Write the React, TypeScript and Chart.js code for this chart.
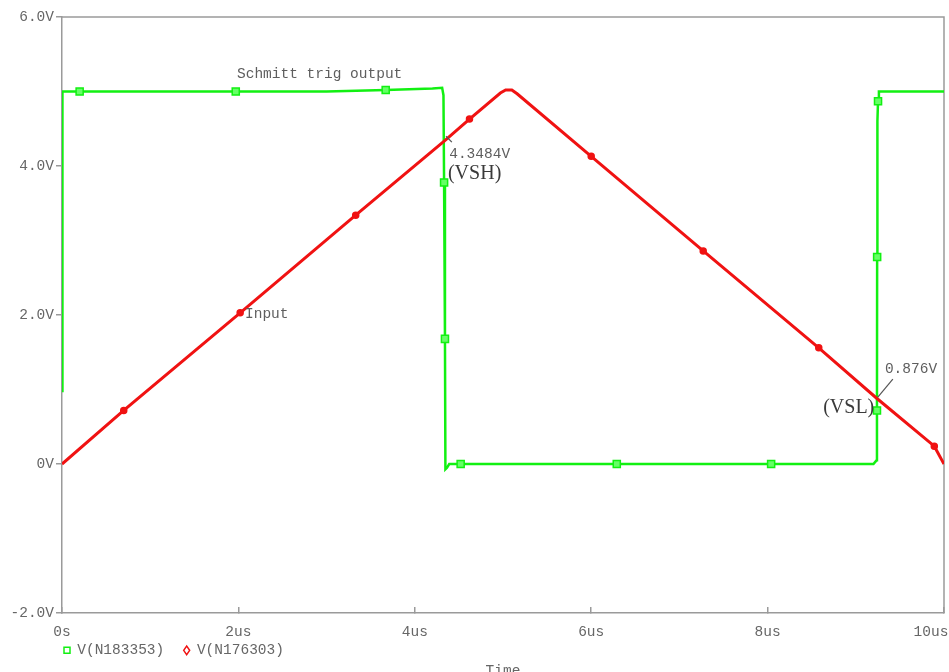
import React, { useEffect, useRef } from "react";
import { Chart, registerables } from "chart.js";

Chart.register(...registerables);

// ---- data (time in microseconds, voltage in volts) ----
const outputLabel = "V(N183353)";
const outputTimes = [0, 0.005, 0.2, 1.97, 3.0, 3.67, 4.2, 4.31, 4.325, 4.332, 4.342, 4.347, 4.365, 4.39, 4.52, 6.29, 8.04, 9.2, 9.235, 9.24, 9.242, 9.245, 9.252, 9.262, 10];
const outputVolts = [0.98, 5.0, 5.0, 5.0, 5.0, 5.02, 5.04, 5.05, 4.95, 3.78, 1.68, -0.07, -0.05, 0.0, 0.0, 0.0, 0.0, 0.0, 0.05, 0.72, 2.78, 4.6, 4.87, 5.0, 5.0];
const outputMarkers = [0, 0, 1, 1, 0, 1, 0, 0, 0, 1, 1, 0, 0, 0, 1, 1, 1, 0, 0, 1, 1, 0, 1, 0, 0];

const inputLabel = "V(N176303)";
const inputTimes = [0, 0.7, 2.02, 3.33, 4.35, 4.62, 4.97, 5.03, 5.1, 5.16, 6.0, 7.27, 8.58, 9.24, 9.89, 10];
const inputVolts = [0, 0.72, 2.03, 3.34, 4.35, 4.63, 4.98, 5.02, 5.02, 4.97, 4.13, 2.86, 1.56, 0.88, 0.24, 0];
const inputMarkers = [0, 1, 1, 1, 0, 1, 0, 0, 0, 0, 1, 1, 1, 0, 1, 0];

const xTickLabels = ["0s", "2us", "4us", "6us", "8us", "10us   "];
const yTickLabels = ["-2.0V", "0V", "2.0V", "4.0V", "6.0V"];
const xAxisTitle = "Time";

// annotations: text, anchor time (us), anchor volts
const noteTexts = ["Schmitt trig output", "Input", "4.3484V", "(VSH)", "0.876V", "(VSL)"];
const noteTimes = [1.984, 2.075, 4.39, 4.376, 9.33, 8.63];
const noteVolts = [5.23, 2.01, 4.16, 3.9, 1.275, 0.75];
const noteSerif = [false, false, false, true, false, true];
// leader lines: [t1, v1, t2, v2]
const leaderLines = [
  [4.354, 4.4, 4.42, 4.32],
  [9.25, 0.9, 9.42, 1.14],
];

const MONO = "'Liberation Mono', 'DejaVu Sans Mono', monospace";
const SERIF = "'Liberation Serif', 'DejaVu Serif', serif";
const AXIS = "#9a9a9a";
const TEXT = "#666666";
const GREEN = "#12f012";
const RED = "#f01212";

const framePlugin = {
  id: "frame",
  beforeDatasetsDraw(chart: any) {
    const { ctx, chartArea } = chart;
    ctx.save();
    ctx.strokeStyle = AXIS;
    ctx.lineWidth = 1.5;
    ctx.beginPath();
    ctx.moveTo(chartArea.left, chartArea.top);
    ctx.lineTo(chartArea.right, chartArea.top);
    ctx.lineTo(chartArea.right, chartArea.bottom);
    ctx.stroke();
    ctx.restore();
  },
};

const notesPlugin = {
  id: "notes",
  afterDatasetsDraw(chart: any) {
    const { ctx } = chart;
    const xs = chart.scales.x;
    const ys = chart.scales.y;
    ctx.save();
    ctx.textBaseline = "middle";
    noteTexts.forEach((txt, i) => {
      const px = xs.getPixelForValue(noteTimes[i]);
      const py = ys.getPixelForValue(noteVolts[i]);
      if (noteSerif[i]) {
        ctx.font = `20px ${SERIF}`;
        ctx.fillStyle = "#3a3a3a";
      } else {
        ctx.font = `14.5px ${MONO}`;
        ctx.fillStyle = "#5e5e5e";
      }
      ctx.textAlign = "left";
      ctx.fillText(txt, px, py);
    });
    ctx.strokeStyle = "#555555";
    ctx.lineWidth = 1.2;
    leaderLines.forEach(([t1, v1, t2, v2]) => {
      ctx.beginPath();
      ctx.moveTo(xs.getPixelForValue(t1), ys.getPixelForValue(v1));
      ctx.lineTo(xs.getPixelForValue(t2), ys.getPixelForValue(v2));
      ctx.stroke();
    });
    ctx.restore();
  },
};

export default function App() {
  const ref = useRef<HTMLCanvasElement>(null);

  useEffect(() => {
    if (!ref.current) return;
    const outputData = outputTimes.map((t, i) => ({ x: t, y: outputVolts[i] }));
    const inputData = inputTimes.map((t, i) => ({ x: t, y: inputVolts[i] }));

    const chart = new Chart(ref.current, {
      type: "line",
      data: {
        datasets: [
          {
            label: outputLabel,
            data: outputData,
            borderColor: GREEN,
            backgroundColor: "#ffffff",
            borderWidth: 2.5,
            tension: 0,
            fill: false,
            order: 1,
            pointStyle: "rect",
            pointRadius: (c: any) => (outputMarkers[c.dataIndex] ? 5 : 0),
            pointBackgroundColor: (c: any) => (c.dataIndex === 0 ? "#ffffff" : "#66ff66"),
            pointBorderColor: GREEN,
            pointBorderWidth: 1.5,
          },
          {
            label: inputLabel,
            data: inputData,
            borderColor: RED,
            backgroundColor: "#ffffff",
            borderWidth: 3,
            tension: 0,
            fill: false,
            order: 0,
            pointStyle: (c: any) => (c.dataIndex === 0 ? "rectRot" : "circle"),
            pointRadius: (c: any) => (inputMarkers[c.dataIndex] ? 3 : 0),
            pointBackgroundColor: (c: any) => (c.dataIndex === 0 ? "#ffffff" : RED),
            pointBorderColor: RED,
            pointBorderWidth: 1.5,
          },
        ],
      } as any,
      options: {
        animation: false,
        responsive: false,
        maintainAspectRatio: false,
        devicePixelRatio: 1,
        layout: { padding: { top: 17, right: 5, left: 0, bottom: 0 } },
        scales: {
          x: {
            type: "linear",
            min: 0,
            max: 10,
            ticks: {
              stepSize: 2,
              autoSkip: false,
              maxRotation: 0,
              padding: 16,
              color: TEXT,
              font: { family: MONO, size: 14.5 },
              callback: (_v: any, i: number) => xTickLabels[i],
            },
            grid: { drawOnChartArea: false, drawTicks: true, tickLength: -6, color: AXIS, lineWidth: 1.5 },
            border: { display: true, color: AXIS, width: 1.5 },
            afterFit: (s: any) => {
              s.height = 28;
              s.paddingLeft = 0;
              s.paddingRight = 0;
            },
          },
          y: {
            type: "linear",
            min: -2,
            max: 6,
            ticks: {
              stepSize: 2,
              padding: 2,
              color: TEXT,
              font: { family: MONO, size: 14.5 },
              callback: (_v: any, i: number) => yTickLabels[i],
            },
            grid: { drawOnChartArea: false, drawTicks: true, tickLength: 6, color: AXIS, lineWidth: 1.5 },
            border: { display: true, color: AXIS, width: 1.5 },
            afterFit: (s: any) => {
              s.width = 62;
            },
          },
        },
        plugins: {
          legend: {
            display: true,
            position: "bottom",
            align: "start",
            fullSize: false,
            labels: {
              usePointStyle: true,
              pointStyleWidth: 6,
              boxHeight: 6,
              padding: 2,
              color: TEXT,
              font: { family: MONO, size: 14.5 },
              sort: (a: any, b: any) => a.datasetIndex - b.datasetIndex,
              generateLabels: (chart: any) =>
                (Chart.defaults.plugins.legend.labels.generateLabels as any)(chart).map((l: any) => ({
                  ...l,
                  text: l.text + "  ",
                })),
            },
          },
          title: {
            display: true,
            text: xAxisTitle,
            position: "bottom",
            fullSize: false,
            color: TEXT,
            font: { family: MONO, size: 14.5, weight: "normal" },
            padding: { top: -5, bottom: -8 },
          },
          tooltip: { enabled: false },
        },
      } as any,
      plugins: [framePlugin, notesPlugin],
    });
    return () => chart.destroy();
  }, []);

  return (
    <div style={{ position: "absolute", left: 0, top: 0, width: 949, height: 672, background: "#ffffff" }}>
      <canvas ref={ref} width={949} height={672} style={{ display: "block", width: 949, height: 672 }} />
    </div>
  );
}
